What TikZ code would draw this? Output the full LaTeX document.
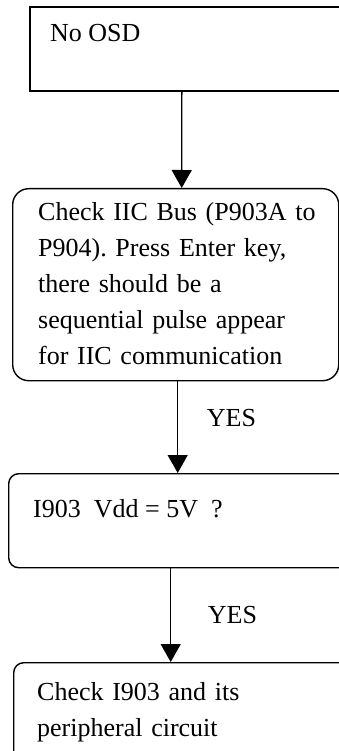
\documentclass[tikz,border=0pt]{standalone}
\usepackage{fontspec}
\setmainfont{Liberation Serif}
\frenchspacing
\usepackage{tikz}
\usetikzlibrary{arrows.meta, positioning}

\begin{document}
\begin{tikzpicture}[
          x=1pt, y=1pt,
          box/.style={draw, line width=1.6pt, minimum height=84pt, anchor=north west, inner sep=0pt},
          rbox/.style={box, rounded corners=10pt, line width=1.4pt},
          txt/.style={inner sep=0pt, align=left, font=\fontsize{26}{36}\selectfont},
          arr/.style={-{Triangle[length=18pt, width=20pt]}, line width=1.4pt},
          lbl/.style={inner sep=0pt, font=\fontsize{26}{36}\selectfont}
        ]
        \useasboundingbox (0,0) rectangle (339,-751);
        \clip (0,0) rectangle (339,-751);
        % Boxes
        \node[box, minimum width=331pt] (osd) at (29,-6) {};
        \node[rbox, rounded corners=16pt, minimum width=326pt, minimum height=192pt] (bus) at (12,-188) {};
        \node[rbox, minimum width=352pt, minimum height=94pt] (vdd) at (8,-473) {};
        \node[rbox, minimum width=347pt, minimum height=120pt] (chk) at (13,-662) {};
        % Texts
        \node[txt, anchor=base west] (osdtxt) at ([shift={(21pt,-36pt)}]osd.north west) {No OSD};
        \node[txt, anchor=north west, text width=300pt] (bustxt) at ([shift={(26pt,-14pt)}]bus.north west)
          {Check IIC Bus (P903A to\\P904). Press Enter key,\\there should be a\\sequential pulse appear\\for IIC communication};
        \node[txt, anchor=base west] (vddtxt) at ([shift={(25pt,-44pt)}]vdd.north west) {I903\ \ Vdd = 5V\ \ ?};
        \node[txt, anchor=north west, text width=300pt] (chktxt) at ([shift={(24pt,-20pt)}]chk.north west)
          {Check I903 and its\\peripheral circuit};

        \draw[arr] ([xshift=-13.5pt]osd.south) -- ([xshift=6pt]bus.north);
        \draw[arr] ([xshift=2pt]bus.south) -- ([xshift=-7pt]vdd.north);
        \draw[arr] ([xshift=-14pt]vdd.south) -- ([xshift=-16.5pt]chk.north);

        % Labels
        \node[lbl, anchor=base west] (yes1) at ([shift={(31pt,-45pt)}]bus.south) {YES};
        \node[lbl, anchor=base west] (yes2) at ([shift={(23pt,-55pt)}]vdd.south) {YES};
      \end{tikzpicture}
\end{document}
